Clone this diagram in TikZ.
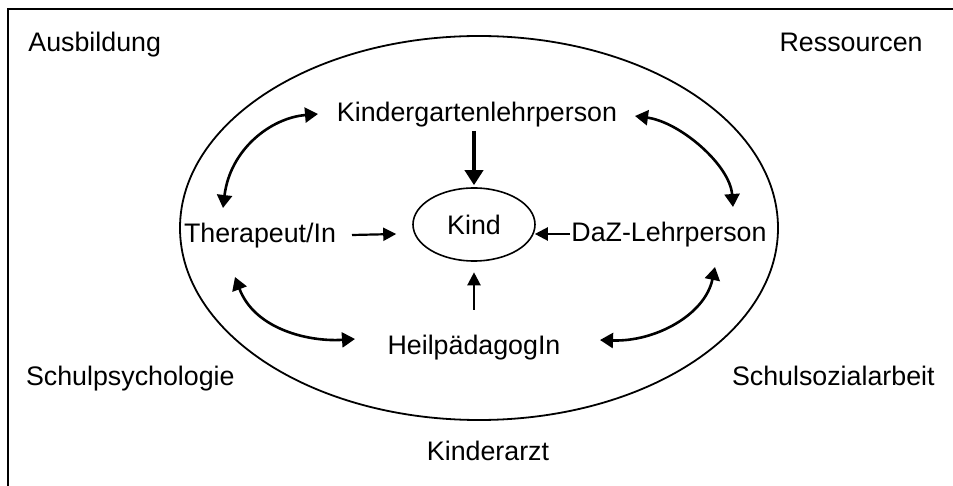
\documentclass[tikz,border=0pt]{standalone}
\usepackage{fontspec}
\setmainfont{Liberation Sans}
\usetikzlibrary{arrows.meta,shapes.geometric,calc}

\begin{document}
\begin{tikzpicture}[x=0.5pt,y=-0.5pt,
  lbl/.style={font=\fontsize{13.4}{16}\selectfont, inner sep=0pt, anchor=base},
  arr/.style={-{Triangle[length=6.5pt,width=6.5pt]}, line width=1.1pt},
  fat/.style={-{Triangle[length=7.5pt,width=9pt]}, line width=2pt},
  dbl/.style={{Triangle[length=6.5pt,width=7.5pt]}-{Triangle[length=6.5pt,width=7.5pt]}, line width=1.3pt}]
\useasboundingbox (0,0) rectangle (953,486);
\draw [line width=1.2pt] (8,9) rectangle (980,510);
\draw [line width=0.9pt] (479,228) ellipse [x radius=299, y radius=192];
% inner circle of persons
\node [lbl] (kiga) at (477,122) {Kindergartenlehrperson};
\node [lbl] (thera) at (260,243) {Therapeut/In};
\node [lbl] (daz) at (669,242) {DaZ-Lehrperson};
\node [lbl] (heil) at (474,354) {HeilpädagogIn};
\node [draw, ellipse, line width=0.8pt, minimum width=61pt, minimum height=36.5pt, inner sep=0pt,
  font=\fontsize{13.4}{16}\selectfont] (kind) at (474,224.5) {Kind};
% outside
\node [lbl, anchor=base west] (ausb) at (28,52) {Ausbildung};
\node [lbl, anchor=base east] (ress) at (923,52) {Ressourcen};
\node [lbl, anchor=base east] (psy) at (235,386) {Schulpsychologie};
\node [lbl, anchor=base east] (sozi) at (935,385) {Schulsozialarbeit};
\node [lbl] (arzt) at (488,460) {Kinderarzt};
% arrows to Kind
\draw [fat, shorten <=1.5pt, shorten >=1pt] (kiga.south -| kind.north) -- (kind.north);
\draw [arr] ($(thera.base)+(92,-8)$) -- ($(kind.west)+(-16,9.5)$);
\draw [arr] ($(daz.base)+(-99,-8)$) -- ($(kind.east)+(-1,9.5)$);
\draw [arr] ($(heil.base)+(0,-44)$) -- ($(kind.south)+(0,10.5)$);
% arrows between persons
\draw [dbl] ($(kiga.base)+(-159,-8)$) .. controls +(-48,4) and +(7,-58) .. ($(thera.base)+(-37,-35)$);
\draw [dbl] ($(kiga.base)+(158,-6)$) .. controls +(45,6) and +(-3,-42) .. ($(daz.base)+(64,-35)$);
\draw [dbl] ($(thera.base)+(-25,34)$) .. controls +(20,53) and +(-45,3) .. ($(heil.base)+(-119,-15)$);
\draw [dbl] ($(heil.base)+(126,-14)$) .. controls +(55,2) and +(-10,48) .. ($(daz.base)+(46,25)$);
\end{tikzpicture}
\end{document}
